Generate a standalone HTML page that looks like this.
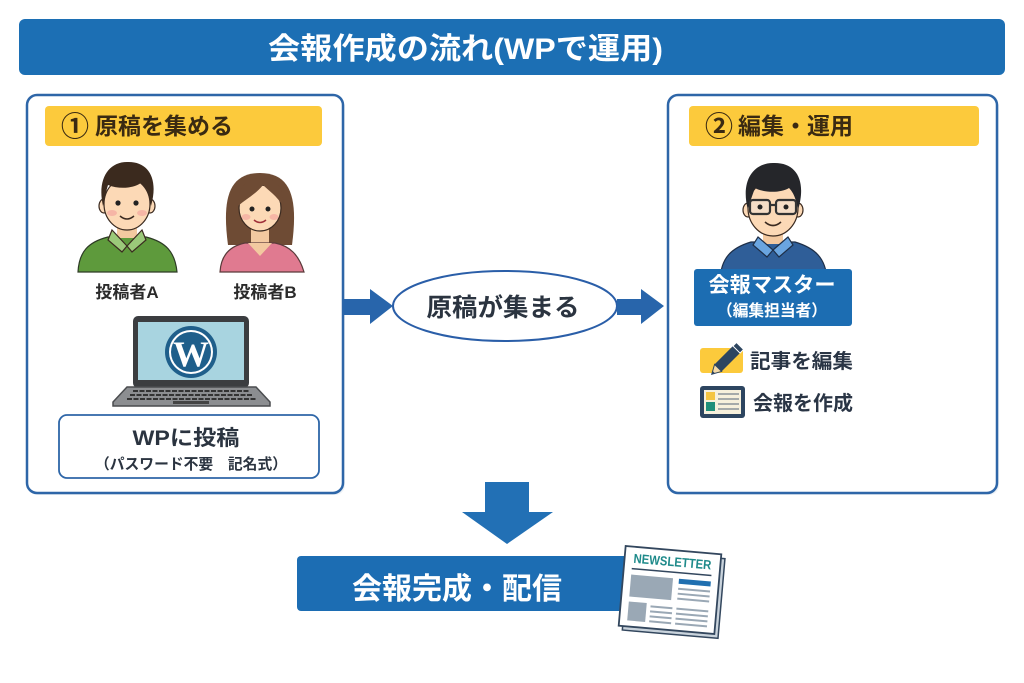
<!DOCTYPE html>
<html><head><meta charset="utf-8"><style>
html,body{margin:0;padding:0;background:#fff;}
svg{display:block;}
text{font-family:"Liberation Sans","Noto Sans CJK JP",sans-serif;font-weight:bold;}
</style></head><body>
<svg width="1024" height="683" viewBox="0 0 1024 683" xmlns="http://www.w3.org/2000/svg">
<rect width="1024" height="683" fill="#ffffff"/>
<!-- Title -->
<rect x="19" y="19" width="986" height="56" rx="6" fill="#1c6fb4"/>
<text x="268" y="59" font-size="30" fill="#fff" textLength="395" lengthAdjust="spacingAndGlyphs">会報作成の流れ(WPで運用)</text>

<!-- Left panel -->
<rect x="29" y="97" width="316" height="398" rx="10" fill="#eef2f6"/>
<rect x="27" y="95" width="316" height="398" rx="10" fill="#fff" stroke="#2e66a8" stroke-width="2.5"/>
<rect x="45" y="106" width="277" height="40" rx="4" fill="#fcca3c"/>
<text x="61" y="136" font-size="28" fill="#3a2a12">①</text>
<text x="95" y="134" font-size="23" fill="#3a2a12" textLength="138" lengthAdjust="spacingAndGlyphs">原稿を集める</text>

<!-- Person A -->
<g stroke="#3a2a20" stroke-width="1.2">
<path d="M78,272 C79,252 88,242 108,237 L146,237 C166,242 175,252 177,272 Z" fill="#5e9a3c" stroke="#2d3b25"/>
<rect x="117" y="220" width="20" height="18" fill="#f3c9a0" stroke="none"/>
<path d="M112,230 L127,246 L122,252 L108,240 Z" fill="#9bc97a"/>
<path d="M142,230 L127,246 L132,252 L146,240 Z" fill="#9bc97a"/>
<ellipse cx="104" cy="206" rx="5" ry="7" fill="#fcd9b6"/>
<ellipse cx="150" cy="206" rx="5" ry="7" fill="#fcd9b6"/>
<ellipse cx="127" cy="204" rx="23" ry="26" fill="#fcd9b6"/>
<path d="M103,206 C97,180 108,162 127,162 C148,161 159,178 151,206 C149,194 146,187 141,183 C132,189 118,189 108,185 C106,191 105,198 103,206 Z" fill="#3b2a1e" stroke="none"/>
</g>
<circle cx="118" cy="203" r="2.6" fill="#222"/><circle cx="136" cy="203" r="2.6" fill="#222"/>
<ellipse cx="112" cy="213" rx="5" ry="3" fill="#f4a7a0" opacity=".7"/><ellipse cx="142" cy="213" rx="5" ry="3" fill="#f4a7a0" opacity=".7"/>
<path d="M120,216 Q127,222 134,216" stroke="#3a2a20" stroke-width="1.5" fill="none"/>

<!-- Person B -->
<path d="M228,245 C222,200 228,173 260,173 C292,173 298,200 292,245 Z" fill="#6e4b34"/>
<rect x="251" y="222" width="18" height="24" fill="#f3c9a0"/>
<path d="M220,272 C221,255 230,246 245,243 L275,243 C290,246 299,255 304,272 Z" fill="#e07a90" stroke="#5a3a3a" stroke-width="1.2"/>
<path d="M248,243 L260,256 L272,243 Z" fill="#f3c9a0"/>
<ellipse cx="260" cy="208" rx="21" ry="23" fill="#fcd9b6" stroke="#3a2a20" stroke-width="1.2"/>
<path d="M238,206 C237,186 249,178 262,178 C276,178 285,189 283,206 C277,196 268,190 263,185 C256,194 246,199 238,206 Z" fill="#6e4b34"/>
<circle cx="252" cy="209" r="2.5" fill="#222"/><circle cx="268" cy="209" r="2.5" fill="#222"/>
<ellipse cx="246" cy="217" rx="4.5" ry="3" fill="#f4a7a0" opacity=".7"/><ellipse cx="274" cy="217" rx="4.5" ry="3" fill="#f4a7a0" opacity=".7"/>
<path d="M254,220 Q260,225 266,220" stroke="#a0303a" stroke-width="1.5" fill="none"/>

<text x="127" y="298" font-size="17" fill="#2b2b2b" text-anchor="middle">投稿者A</text>
<text x="265" y="298" font-size="17" fill="#2b2b2b" text-anchor="middle">投稿者B</text>

<!-- Laptop -->
<rect x="133" y="316" width="116" height="72" rx="5" fill="#3b3d40"/>
<rect x="138" y="322" width="106" height="58" fill="#a8d4e0"/>
<circle cx="191" cy="352" r="26" fill="#1f5f8b"/>
<circle cx="191" cy="352" r="22" fill="#fff"/>
<circle cx="191" cy="352" r="20" fill="#1f5f8b"/>
<text x="191" y="366" font-size="36" fill="#fff" text-anchor="middle" style="font-family:'Liberation Serif',serif">W</text>
<path d="M127,387 L256,387 L270,402 L270,406 L113,406 L113,402 Z" fill="#8c8e91" stroke="#4a4c4f" stroke-width="1.5"/>
<g stroke="#333" stroke-width="2" stroke-dasharray="5 1.5">
<line x1="133" y1="391" x2="250" y2="391"/><line x1="130" y1="395" x2="253" y2="395"/><line x1="127" y1="399" x2="256" y2="399"/>
</g>
<rect x="173" y="401" width="36" height="3" fill="#444"/>

<!-- WP box -->
<rect x="59" y="415" width="260" height="63" rx="8" fill="#fff" stroke="#2e66a8" stroke-width="1.8"/>
<text x="186" y="445" font-size="21" fill="#2b3440" text-anchor="middle" textLength="107" lengthAdjust="spacingAndGlyphs">WPに投稿</text>
<text x="191" y="469" font-size="15" fill="#2b3440" text-anchor="middle" textLength="192" lengthAdjust="spacingAndGlyphs">（パスワード不要　記名式）</text>

<!-- Middle arrows & ellipse -->
<polygon points="343,299 370,299 370,289 393,306 370,324 370,315 343,315" fill="#2865ab"/>
<ellipse cx="505" cy="306" rx="112" ry="35" fill="#fff" stroke="#2a5ea8" stroke-width="2"/>
<text x="503" y="316" font-size="25" fill="#2b3440" text-anchor="middle" textLength="153" lengthAdjust="spacingAndGlyphs">原稿が集まる</text>
<polygon points="617,299 641,299 641,289 664,306 641,324 641,315 617,315" fill="#2865ab"/>

<!-- Right panel -->
<rect x="670" y="97" width="329" height="398" rx="10" fill="#eef2f6"/>
<rect x="668" y="95" width="329" height="398" rx="10" fill="#fff" stroke="#2e66a8" stroke-width="2.5"/>
<rect x="689" y="106" width="290" height="40" rx="4" fill="#fcca3c"/>
<text x="705" y="136" font-size="28" fill="#3a2a12">②</text>
<text x="738" y="134" font-size="23" fill="#3a2a12" textLength="115" lengthAdjust="spacingAndGlyphs">編集・運用</text>

<!-- Person C -->
<g stroke="#1e2f48" stroke-width="1.2">
<path d="M720,280 C721,258 731,248 751,242 L795,242 C815,248 826,258 827,280 Z" fill="#2f5e98"/>
<rect x="763" y="228" width="20" height="16" fill="#f3c9a0" stroke="none"/>
<path d="M758,237 L773,250 L767,257 L753,245 Z" fill="#6aa5e0"/>
<path d="M788,237 L773,250 L779,257 L793,245 Z" fill="#6aa5e0"/>
<ellipse cx="748" cy="210" rx="5" ry="7" fill="#fcd9b6" stroke="#3a2a20"/>
<ellipse cx="798" cy="210" rx="5" ry="7" fill="#fcd9b6" stroke="#3a2a20"/>
<ellipse cx="773" cy="208" rx="25" ry="28" fill="#fcd9b6" stroke="#3a2a20"/>
<path d="M748,210 C740,180 754,163 773,163 C796,162 807,180 798,210 C796,198 793,192 789,188 C779,194 762,192 755,188 C752,196 750,202 748,210 Z" fill="#25262a" stroke="none"/>
</g>
<g stroke="#333" stroke-width="2.2" fill="#e8e4e6" fill-opacity=".35">
<rect x="750" y="200" width="20" height="14" rx="3"/><rect x="776" y="200" width="20" height="14" rx="3"/>
<line x1="770" y1="205" x2="776" y2="205"/>
</g>
<circle cx="760" cy="207" r="2.5" fill="#222"/><circle cx="786" cy="207" r="2.5" fill="#222"/>
<path d="M765,222 Q773,229 781,222" stroke="#3a2a20" stroke-width="1.6" fill="none"/>

<rect x="694" y="269" width="158" height="57" rx="3" fill="#1c6db2"/>
<text x="772" y="292" font-size="21" fill="#fff" text-anchor="middle" textLength="127" lengthAdjust="spacingAndGlyphs">会報マスター</text>
<text x="772" y="316" font-size="16" fill="#fff" text-anchor="middle" textLength="110" lengthAdjust="spacingAndGlyphs">（編集担当者）</text>

<!-- Pencil icon -->
<rect x="700" y="348" width="43" height="25" rx="3" fill="#fcca3c"/>
<g transform="translate(728,358) rotate(-45)">
<rect x="-14" y="-5" width="26" height="10" fill="#2d4560"/>
<rect x="12" y="-5" width="5" height="10" fill="#2d4560" stroke="#fff" stroke-width="1"/>
<polygon points="-14,-5 -23,0 -14,5" fill="#f3d9a8" stroke="#2d4560" stroke-width="1"/>
<polygon points="-20,-1.7 -23,0 -20,1.7" fill="#2d4560"/>
</g>
<text x="750" y="368" font-size="20" fill="#2a3545" textLength="103" lengthAdjust="spacingAndGlyphs">記事を編集</text>

<!-- Newsletter icon -->
<rect x="700" y="386" width="45" height="32" rx="3" fill="#2d4560"/>
<rect x="704" y="390" width="37" height="24" fill="#f6f0dc"/>
<rect x="706" y="392" width="9" height="8" fill="#f4c542"/>
<rect x="706" y="402" width="9" height="9" fill="#1f8f7a"/>
<g stroke="#8a929a" stroke-width="1.5"><line x1="718" y1="394" x2="739" y2="394"/><line x1="718" y1="399" x2="739" y2="399"/><line x1="718" y1="404" x2="739" y2="404"/><line x1="718" y1="409" x2="739" y2="409"/></g>
<text x="753" y="410" font-size="20" fill="#2a3545" textLength="100" lengthAdjust="spacingAndGlyphs">会報を作成</text>

<!-- Down arrow -->
<polygon points="485,482 529,482 529,512 553,512 507,544 462,512 485,512" fill="#2270b5"/>

<!-- Bottom banner -->
<rect x="297" y="556" width="345" height="55" rx="4" fill="#1c6db3"/>
<text x="457" y="599" font-size="30" fill="#fff" text-anchor="middle" textLength="210" lengthAdjust="spacingAndGlyphs">会報完成・配信</text>

<!-- Newsletter -->
<g transform="translate(670,590) rotate(5)">
<rect x="-44" y="-36" width="96" height="80" fill="#c9d3dc" stroke="#33475e" stroke-width="1.5"/>
<rect x="-48" y="-40" width="96" height="80" fill="#fff" stroke="#33475e" stroke-width="1.8"/>
<text x="0" y="-24" font-size="13" fill="#1e8a8a" text-anchor="middle" textLength="78" lengthAdjust="spacingAndGlyphs">NEWSLETTER</text>
<line x1="-40" y1="-18" x2="40" y2="-18" stroke="#33475e" stroke-width="1.5"/>
<rect x="-40" y="-12" width="42" height="22" fill="#9aa8b5"/>
<rect x="8" y="-12" width="32" height="5" fill="#1f6fb0"/>
<g stroke="#9aa8b5" stroke-width="2"><line x1="8" y1="-2" x2="40" y2="-2"/><line x1="8" y1="3" x2="40" y2="3"/><line x1="8" y1="8" x2="40" y2="8"/>
<line x1="-18" y1="18" x2="4" y2="18"/><line x1="-18" y1="23" x2="4" y2="23"/><line x1="-18" y1="28" x2="4" y2="28"/><line x1="-18" y1="33" x2="4" y2="33"/>
<line x1="8" y1="18" x2="40" y2="18"/><line x1="8" y1="23" x2="40" y2="23"/><line x1="8" y1="28" x2="40" y2="28"/><line x1="8" y1="33" x2="40" y2="33"/></g>
<rect x="-40" y="15" width="18" height="19" fill="#9aa8b5"/>
</g>
</svg>
</body></html>
